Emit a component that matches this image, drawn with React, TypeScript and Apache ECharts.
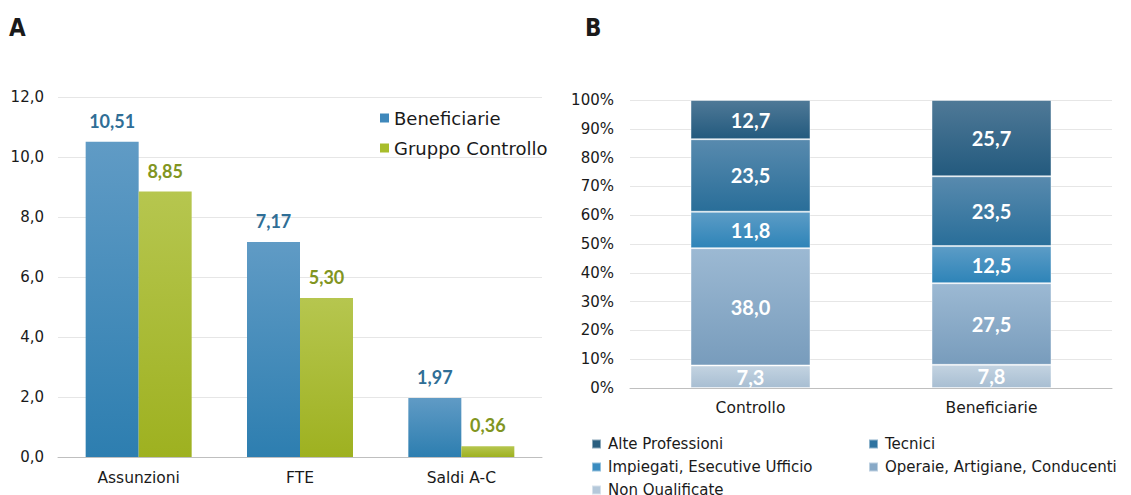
import React, { useEffect, useRef } from "react";
import * as echarts from "echarts";

// Panel A
const catsA = ["Assunzioni", "FTE", "Saldi A-C"];
const beneficiarie = [10.51, 7.17, 1.97];
const controllo = [8.85, 5.3, 0.36];
const yTicksA = { min: 0, max: 12, interval: 2 };

// Panel B
const catsB = ["Controllo", "Beneficiarie"];
const nonQualificate = [7.3, 7.8];
const operaie = [38.0, 27.5];
const impiegati = [11.8, 12.5];
const tecnici = [23.5, 23.5];
const alteProfessioni = [12.7, 25.7];

const FONT = "'DejaVu Sans', sans-serif";
const LFONT = "Lato, 'Open Sans', sans-serif";

const grad = (top: string, bottom: string) =>
  new echarts.graphic.LinearGradient(0, 0, 0, 1, [
    { offset: 0, color: top },
    { offset: 1, color: bottom },
  ]);

export default function App() {
  const ref = useRef<HTMLDivElement>(null);
  useEffect(() => {
    if (!ref.current) return;
    const chart = echarts.init(ref.current, undefined, { renderer: "svg" });

    const stackDefs = [
      { name: "Non Qualificate", data: nonQualificate, top: "#c3d3e1", bottom: "#a8bed2" },
      { name: "Operaie, Artigiane, Conducenti", data: operaie, top: "#9cb9d3", bottom: "#789cbc" },
      { name: "Impiegati, Esecutive Ufficio", data: impiegati, top: "#5c9cc6", bottom: "#2e84b8" },
      { name: "Tecnici", data: tecnici, top: "#588aae", bottom: "#296e99" },
      { name: "Alte Professioni", data: alteProfessioni, top: "#4f7997", bottom: "#235a7e" },
    ];
    const totals = catsB.map((_, i) => stackDefs.reduce((s, d) => s + d.data[i], 0));

    const comma = (v: number, d: number) => v.toFixed(d).replace(".", ",");

    const legendB = (left: number, items: { name: string; color: string }[]) => ({
      orient: "vertical",
      left,
      top: 430,
      height: 80,
      itemWidth: 9,
      itemHeight: 9,
      itemGap: 5,
      icon: "rect",
      data: items.map((it) => ({ name: it.name, itemStyle: { color: it.color } })),
      textStyle: { fontSize: 15, color: "#1a1a1a", lineHeight: 18, padding: [0, 0, 0, 2], fontFamily: FONT },
    });

    const option: any = {
      animation: false,
      textStyle: { fontFamily: FONT },
      graphic: [
        { type: "text", left: 9, top: 16, style: { text: "A", font: "bold 24px 'DejaVu Sans Condensed', sans-serif", fill: "#1a1a1a" } },
        { type: "text", left: 585, top: 16, style: { text: "B", font: "bold 24px 'DejaVu Sans Condensed', sans-serif", fill: "#1a1a1a" } },
      ],
      legend: [
        {
          orient: "vertical",
          left: 375,
          top: 102,
          height: 80,
          itemWidth: 9,
          itemHeight: 9,
          itemGap: 8,
          icon: "rect",
          data: [
            { name: "Beneficiarie", itemStyle: { color: "#3f88bb" } },
            { name: "Gruppo Controllo", itemStyle: { color: "#a8bd2b" } },
          ],
          textStyle: { fontSize: 18, color: "#1a1a1a", lineHeight: 22, fontFamily: FONT },
        },
        legendB(586, [
          { name: "Alte Professioni", color: "#2a5f80" },
          { name: "Impiegati, Esecutive Ufficio", color: "#3a8cc0" },
          { name: "Non Qualificate", color: "#b4c8da" },
        ]),
        legendB(863, [
          { name: "Tecnici", color: "#2e73a0" },
          { name: "Operaie, Artigiane, Conducenti", color: "#88a9c7" },
        ]),
      ],
      grid: [
        { left: 58, right: 589, top: 97, height: 360 },
        { left: 630, right: 19, top: 100, height: 288 },
      ],
      xAxis: [
        {
          type: "category",
          gridIndex: 0,
          data: catsA,
          axisLine: { lineStyle: { color: "#bfbfbf", width: 1 } },
          axisTick: { show: false },
          axisLabel: { fontSize: 15.5, color: "#1a1a1a", margin: 13, fontFamily: FONT },
        },
        {
          type: "category",
          gridIndex: 1,
          data: catsB,
          axisLine: { lineStyle: { color: "#bfbfbf", width: 1 } },
          axisTick: { show: false },
          axisLabel: { fontSize: 15.5, color: "#1a1a1a", margin: 12, fontFamily: FONT },
        },
      ],
      yAxis: [
        {
          type: "value",
          gridIndex: 0,
          min: yTicksA.min,
          max: yTicksA.max,
          interval: yTicksA.interval,
          axisLine: { show: false },
          axisTick: { show: false },
          splitLine: { lineStyle: { color: "#e6e6e6" } },
          axisLabel: { fontSize: 15, color: "#1a1a1a", margin: 14, formatter: (v: number) => comma(v, 1), fontFamily: FONT },
        },
        {
          type: "value",
          gridIndex: 1,
          min: 0,
          max: 100,
          interval: 10,
          axisLine: { show: false },
          axisTick: { show: false },
          splitLine: { lineStyle: { color: "#e6e6e6" } },
          axisLabel: { fontSize: 15, color: "#1a1a1a", margin: 16, formatter: (v: number) => `${v}%`, fontFamily: FONT },
        },
      ],
      series: [
        {
          name: "Beneficiarie",
          type: "bar",
          xAxisIndex: 0,
          yAxisIndex: 0,
          data: beneficiarie,
          barWidth: 53,
          barGap: "0%",
          itemStyle: { color: grad("#609bc5", "#2d7eb0") },
          label: {
            show: true,
            position: "top",
            distance: 12,
            fontSize: 18,
            fontWeight: "bold",
            color: "#2f6e96",
            fontFamily: LFONT,
            formatter: (p: any) => comma(p.value, 2),
          },
        },
        {
          name: "Gruppo Controllo",
          type: "bar",
          xAxisIndex: 0,
          yAxisIndex: 0,
          data: controllo,
          barWidth: 53,
          barGap: "0%",
          itemStyle: { color: grad("#b6c64f", "#9eb120") },
          label: {
            show: true,
            position: "top",
            distance: 12,
            fontSize: 18,
            fontWeight: "bold",
            color: "#819521",
            fontFamily: LFONT,
            formatter: (p: any) => comma(p.value, 2),
          },
        },
        ...stackDefs.map((d) => ({
          name: d.name,
          type: "bar",
          xAxisIndex: 1,
          yAxisIndex: 1,
          stack: "b",
          barWidth: 120,
          data: d.data.map((v, i) => (v / totals[i]) * 100),
          itemStyle: { color: grad(d.top, d.bottom), borderColor: "rgba(255,255,255,0.45)", borderWidth: 1 },
          label: {
            show: true,
            position: "inside",
            fontSize: 20,
            fontWeight: "bold",
            color: "#ffffff",
            fontFamily: LFONT,
            formatter: (p: any) => comma(d.data[p.dataIndex], 1),
          },
        })),
      ],
    };
    chart.setOption(option);
    return () => chart.dispose();
  }, []);
  return (
    <div
      ref={ref}
      style={{ position: "fixed", left: 0, top: 0, width: 1131, height: 495, background: "#ffffff" }}
    />
  );
}
